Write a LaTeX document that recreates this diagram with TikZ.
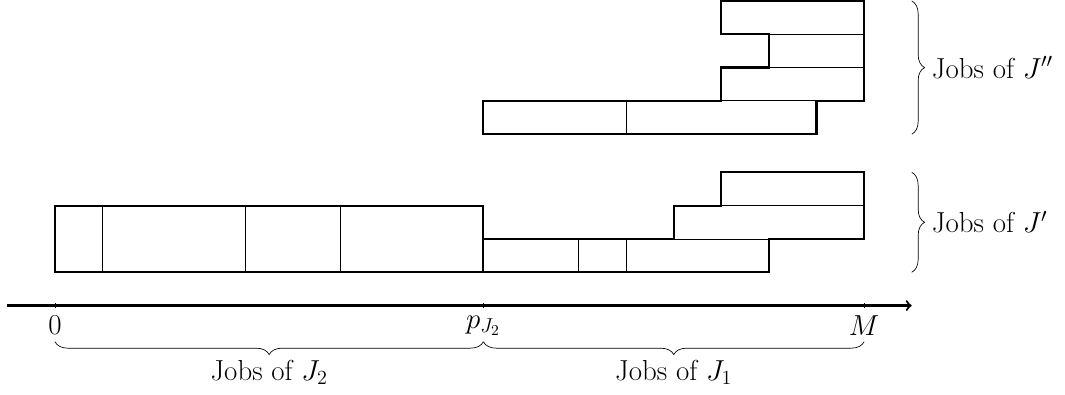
\documentclass[tikz,border=0pt]{standalone}
\usepackage{amsmath}
\usetikzlibrary{positioning}
\usetikzlibrary{decorations.pathreplacing}

\tikzset{
  outline/.style={line width=1.3pt},
  joblines/.style={line width=0.5pt},
  jobbrace/.style={decorate,decoration={brace,amplitude=0.27cm}},
}

\begin{document}
\begin{tikzpicture}[font=\fontsize{17.3}{20}\selectfont]
\useasboundingbox (-1.155,-1.87) rectangle (21.22,6.42);

% time axis
\draw[outline,->] (-1,0) -- (18,0);
\foreach \x in {0,9,17} \draw[joblines] (\x,-0.06) -- (\x,0.06);

\node[] (zero) at (0,-0.42) {$0$};
\node[] (pjtwo) at (9,-0.42) {$p_{J_2}$};
\node[] (bigm) at (17,-0.42) {$M$};

% jobs of J'
\foreach \x in {1,4,6} \draw[joblines] (\x,0.7) -- (\x,2.1);
\draw[outline] (0,0.7) rectangle (9,2.1);

\draw[joblines] (11,0.7) -- (11,1.4);
\draw[joblines] (12,0.7) -- (12,1.4);
\draw[joblines] (13,1.4) -- (15,1.4);
\draw[joblines] (14,2.1) -- (17,2.1);
\draw[outline] (9,0.7) -- (15,0.7) -- (15,1.4) -- (17,1.4) -- (17,2.8) -- (14,2.8) -- (14,2.1) -- (13,2.1) -- (13,1.4) -- (9,1.4) -- cycle;

% jobs of J''
\draw[joblines] (12,3.6) -- (12,4.3);
\draw[joblines] (14,4.3) -- (16,4.3);
\draw[joblines] (15,5.0) -- (17,5.0);
\draw[joblines] (15,5.7) -- (17,5.7);
\draw[outline] (9,3.6) -- (16,3.6) -- (16,4.3) -- (17,4.3) -- (17,6.4) -- (14,6.4) -- (14,5.7) -- (15,5.7) -- (15,5.0) -- (14,5.0) -- (14,4.3) -- (9,4.3) -- cycle;

% braces
\draw[jobbrace,decoration={mirror}] (0,-0.76) -- (9,-0.76);
\draw[jobbrace,decoration={mirror}] (9,-0.76) -- (17,-0.76);
\node[] (jtwo) at (4.5,-1.4) {Jobs of $J_2$};
\node[] (jone) at (13,-1.4) {Jobs of $J_1$};

\draw[jobbrace] (18,6.4) -- (18,3.6);
\draw[jobbrace] (18,2.8) -- (18,0.7);
\node[anchor=west] (jdprime) at (18.3,5.0) {Jobs of $J''$};
\node[anchor=west] (jprime) at (18.3,1.75) {Jobs of $J'$};

\end{tikzpicture}
\end{document}
